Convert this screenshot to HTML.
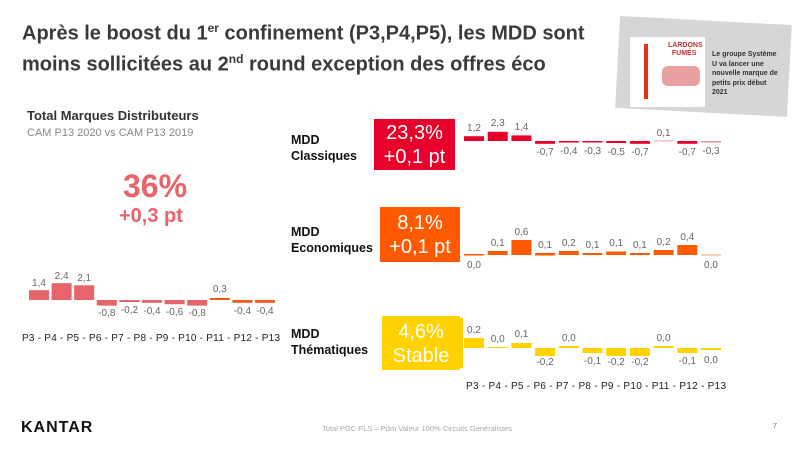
<!DOCTYPE html>
<html><head><meta charset="utf-8"><style>
body{margin:0;width:800px;height:450px;background:#fff;overflow:hidden;font-family:"Liberation Sans",Arial,sans-serif;position:relative}
.t{position:absolute;left:22px;top:16px;font-size:20px;font-weight:bold;color:#3a3a3a;line-height:25px}
.box{position:absolute;color:#fff;text-align:center;font-size:20px;line-height:24px}
.lab{position:absolute;font-size:12.5px;font-weight:bold;color:#111;line-height:16px}
</style></head><body>
<div class="t">Après le boost du 1<sup style="font-size:12px">er</sup> confinement (P3,P4,P5), les MDD sont<br>moins sollicitées au 2<sup style="font-size:12px">nd</sup> round exception des offres éco</div>
<div style="position:absolute;left:620px;top:16px;width:172px;height:92px;background:#d6d6d6;transform:rotate(3deg);transform-origin:0 0"></div>
<div style="position:absolute;left:630px;top:37px;width:75px;height:70px;background:#fff"></div>
<div style="position:absolute;left:644px;top:44px;width:4px;height:55px;background:#e53020"></div>
<div style="position:absolute;left:668px;top:42px;font-size:7px;font-weight:bold;color:#c03030;line-height:8px">LARDONS<br>&nbsp;&nbsp;FUMÉS</div>
<div style="position:absolute;left:662px;top:66px;width:38px;height:20px;background:#e9a0a0;border-radius:6px"></div>
<div style="position:absolute;left:712px;top:50px;font-size:7px;font-weight:bold;color:#333;line-height:9.5px">Le groupe Système<br>U va lancer une<br>nouvelle marque de<br>petits prix début<br>2021</div>
<div style="position:absolute;left:27px;top:108px;font-size:13px;font-weight:bold;color:#333">Total Marques Distributeurs</div>
<div style="position:absolute;left:27px;top:127px;font-size:11px;color:#888">CAM P13 2020 vs CAM P13 2019</div>
<div style="position:absolute;left:123px;top:168px;font-size:32px;font-weight:bold;color:#e8636a">36%</div>
<div style="position:absolute;left:119px;top:205px;font-size:20px;font-weight:bold;color:#e8636a">+0,3 pt</div>
<div class="lab" style="left:291px;top:132px">MDD<br>Classiques</div>
<div class="lab" style="left:291px;top:224px">MDD<br>Economiques</div>
<div class="lab" style="left:291px;top:326px">MDD<br>Thématiques</div>
<div class="box" style="left:374px;top:119px;width:81px;height:51px;background:#e8002a;padding-top:2px;box-sizing:border-box">23,3%<br>+0,1 pt</div>
<div class="box" style="left:380px;top:207px;width:80px;height:55px;background:#ff5a00;padding-top:4px;box-sizing:border-box">8,1%<br>+0,1 pt</div>
<div class="box" style="left:382px;top:316px;width:78px;height:54px;background:#ffd200;padding-top:4px;box-sizing:border-box">4,6%<br>Stable</div>
<svg width="800" height="450" style="position:absolute;left:0;top:0" font-family="Liberation Sans,Arial,sans-serif" font-size="10" fill="#666" text-anchor="middle">
<rect x="460" y="318" width="3" height="50" fill="#ffd200"/>
<g fill="#e8636a">
<rect x="29" y="290.2" width="20" height="9.8"/><rect x="51.6" y="283.2" width="20" height="16.8"/><rect x="74.2" y="285.3" width="20" height="14.7"/><rect x="96.8" y="300" width="20" height="5.6"/><rect x="119.4" y="300" width="20" height="2"/><rect x="142" y="300" width="20" height="2.8"/><rect x="164.6" y="300" width="20" height="4.2"/><rect x="187.2" y="300" width="20" height="5.6"/></g>
<g fill="#f05a1a"><rect x="209.8" y="297.9" width="20" height="2.1"/><rect x="232.4" y="300" width="20" height="2.8"/><rect x="255" y="300" width="20" height="2.8"/></g>
<text x="39" y="286">1,4</text><text x="61.6" y="279">2,4</text><text x="84.2" y="281">2,1</text><text x="106.8" y="316">-0,8</text><text x="129.4" y="313">-0,2</text><text x="152" y="314">-0,4</text><text x="174.6" y="315">-0,6</text><text x="197.2" y="316">-0,8</text><text x="219.8" y="292">0,3</text><text x="242.4" y="314">-0,4</text><text x="265" y="314">-0,4</text>
<text x="22" y="341" fill="#222" font-size="10" text-anchor="start" textLength="258" lengthAdjust="spacing">P3 -  P4 -  P5 -  P6 - P7 - P8 -  P9 -  P10 - P11 - P12 - P13</text>
<g fill="#e8002a"><rect x="464" y="136.2" width="20" height="4.8"/><rect x="487.7" y="131.8" width="20" height="9.2"/><rect x="511.4" y="135.4" width="20" height="5.6"/><rect x="535.1" y="141" width="20" height="2.8"/><rect x="558.8" y="141" width="20" height="1.6"/><rect x="582.5" y="141" width="20" height="1.5"/><rect x="606.2" y="141" width="20" height="2"/><rect x="629.9" y="141" width="20" height="2.8"/><rect x="677.3" y="141" width="20" height="2.8"/></g>
<rect x="653.6" y="140.5" width="20" height="0.8" fill="#f08090"/><rect x="701" y="141" width="20" height="1.5" fill="#e8909c"/>
<text x="474" y="131">1,2</text><text x="497.7" y="126">2,3</text><text x="521.4" y="130">1,4</text><text x="545.1" y="155">-0,7</text><text x="568.8" y="154">-0,4</text><text x="592.5" y="154">-0,3</text><text x="616.2" y="155">-0,5</text><text x="639.9" y="155">-0,7</text><text x="663.6" y="136">0,1</text><text x="687.3" y="155">-0,7</text><text x="711" y="154">-0,3</text>
<g fill="#ff5a00"><rect x="464" y="254" width="20" height="1.5"/><rect x="487.7" y="251" width="20" height="4"/><rect x="511.4" y="240" width="20" height="15"/><rect x="535.1" y="253" width="20" height="2.5"/><rect x="558.8" y="251" width="20" height="4"/><rect x="582.5" y="253" width="20" height="2"/><rect x="606.2" y="251.5" width="20" height="3.5"/><rect x="629.9" y="253" width="20" height="2"/><rect x="653.6" y="250" width="20" height="5"/><rect x="677.3" y="245" width="20" height="10"/><rect x="701" y="254.5" width="20" height="1" fill="#f8a070"/></g>
<text x="474" y="268">0,0</text><text x="497.7" y="246">0,1</text><text x="521.4" y="235">0,6</text><text x="545.1" y="248">0,1</text><text x="568.8" y="246">0,2</text><text x="592.5" y="248">0,1</text><text x="616.2" y="246">0,1</text><text x="639.9" y="248">0,1</text><text x="663.6" y="245">0,2</text><text x="687.3" y="240">0,4</text><text x="711" y="268">0,0</text>
<g fill="#ffd200"><rect x="464" y="338" width="20" height="10"/><rect x="487.7" y="347" width="20" height="1"/><rect x="511.4" y="343" width="20" height="5"/><rect x="535.1" y="348" width="20" height="8"/><rect x="558.8" y="346" width="20" height="2"/><rect x="582.5" y="348" width="20" height="5"/><rect x="606.2" y="348" width="20" height="8"/><rect x="629.9" y="348" width="20" height="8"/><rect x="653.6" y="346" width="20" height="2"/><rect x="677.3" y="348" width="20" height="5"/><rect x="701" y="348" width="20" height="2"/></g>
<text x="474" y="333">0,2</text><text x="497.7" y="342">0,0</text><text x="521.4" y="337">0,1</text><text x="545.1" y="365">-0,2</text><text x="568.8" y="341">0,0</text><text x="592.5" y="364">-0,1</text><text x="616.2" y="365">-0,2</text><text x="639.9" y="365">-0,2</text><text x="663.6" y="341">0,0</text><text x="687.3" y="364">-0,1</text><text x="711" y="363">0,0</text>
<text x="466" y="389" fill="#222" font-size="10" text-anchor="start" textLength="260" lengthAdjust="spacing">P3 -  P4 -  P5 -  P6 - P7 - P8 -  P9 -  P10 - P11 - P12 - P13</text>
<text x="417" y="431" font-size="7.5" fill="#aaa">Total PGC-FLS – Pdm Valeur 100% Circuits Généralistes</text>
<text x="775" y="428" font-size="7.5" fill="#666">7</text>
<text x="21" y="432" text-anchor="start" font-size="16" font-weight="bold" fill="#111" letter-spacing="1">KANTAR</text>
</svg>
</body></html>
